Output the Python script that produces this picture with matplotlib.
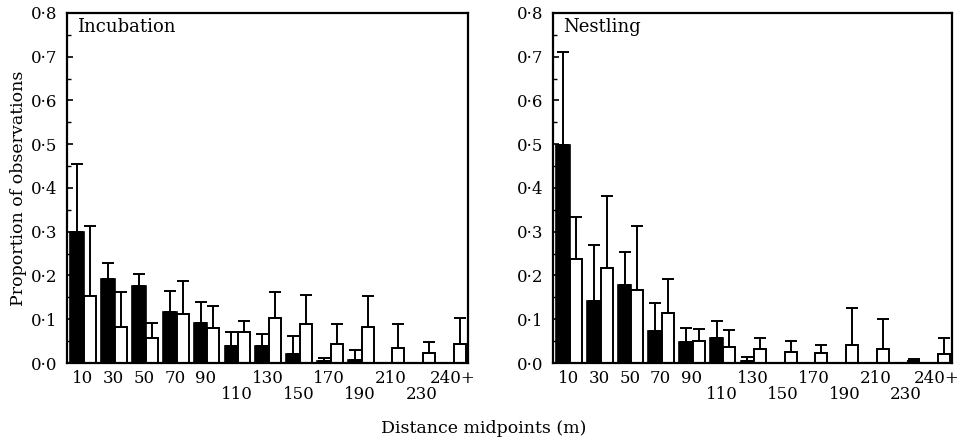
import numpy as np
import matplotlib
matplotlib.use("Agg")
import matplotlib.pyplot as plt
from matplotlib.ticker import MultipleLocator

plt.rcParams["font.family"] = ["DejaVu Serif"]

# Distance classes (midpoints, m)
DISTANCES = ["10", "30", "50", "70", "90", "110", "130", "150",
             "170", "190", "210", "230", "240+"]

# Incubation: black = first series, white = second series (mean, upper error limit)
INC_BLACK = [0.30, 0.193, 0.177, 0.116, 0.092, 0.039, 0.039, 0.021, 0.004, 0.007, 0.0, 0.0, 0.0]
INC_BLACK_TOP = [0.455, 0.228, 0.203, 0.165, 0.140, 0.070, 0.066, 0.062, 0.011, 0.030,
                 np.nan, np.nan, np.nan]
INC_WHITE = [0.152, 0.082, 0.057, 0.113, 0.081, 0.070, 0.102, 0.088, 0.044, 0.082, 0.035, 0.022, 0.043]
INC_WHITE_TOP = [0.312, 0.162, 0.091, 0.187, 0.131, 0.096, 0.162, 0.155, 0.088, 0.152,
                 0.090, 0.048, 0.102]

# Nestling
NES_BLACK = [0.498, 0.142, 0.178, 0.073, 0.047, 0.056, 0.004, 0.0, 0.0, 0.0, 0.0, 0.0, 0.0]
NES_BLACK_TOP = [0.710, 0.270, 0.254, 0.138, 0.079, 0.097, 0.013,
                 np.nan, np.nan, np.nan, np.nan, np.nan, np.nan]
NES_WHITE = [0.237, 0.218, 0.167, 0.114, 0.050, 0.037, 0.032, 0.026, 0.022, 0.040, 0.032, 0.004, 0.021]
NES_WHITE_TOP = [0.334, 0.382, 0.312, 0.191, 0.077, 0.075, 0.056, 0.050, 0.041, 0.125,
                 0.100, 0.010, 0.056]

YTICKS = [0.0, 0.1, 0.2, 0.3, 0.4, 0.5, 0.6, 0.7, 0.8]
YTICKLABELS = ["0·0", "0·1", "0·2", "0·3", "0·4", "0·5", "0·6", "0·7", "0·8"]


def draw_panel(ax, title, black, black_top, white, white_top):
    x = np.arange(len(DISTANCES))
    black = np.array(black)
    white = np.array(white)
    b_err = np.array(black_top) - black
    w_err = np.array(white_top) - white
    ekw = dict(ecolor="black", elinewidth=1.4, capthick=1.4)

    ax.bar(x - 0.17, black, width=0.44, color="black", edgecolor="black", linewidth=1.2,
           yerr=[np.zeros_like(b_err), b_err], capsize=4, error_kw=ekw)
    ax.bar(x + 0.245, white, width=0.39, color="white", edgecolor="black", linewidth=1.4,
           yerr=[np.zeros_like(w_err), w_err], capsize=4, error_kw=ekw)

    ax.set_xlim(-0.5, len(DISTANCES) - 0.5)
    ax.set_ylim(0, 0.8)
    ax.set_yticks(YTICKS)
    ax.set_yticklabels(YTICKLABELS, fontsize=12)
    ax.yaxis.set_minor_locator(MultipleLocator(0.05))
    ax.tick_params(axis="y", which="major", direction="in", length=4, width=1.2, pad=7)
    ax.tick_params(axis="y", which="minor", direction="in", length=3, width=1.0)
    ax.set_xticks([])

    # staggered distance labels
    for i, lab in enumerate(DISTANCES):
        yy = -0.089 if i in (5, 7, 9, 11) else -0.043
        ax.text(i, yy, lab, transform=ax.get_xaxis_transform(),
                ha="center", va="center", fontsize=12)

    for sp in ax.spines.values():
        sp.set_linewidth(1.6)

    ax.text(0.025, 0.985, title, transform=ax.transAxes, ha="left", va="top", fontsize=13)


fig = plt.figure(figsize=(9.68, 4.4), dpi=100)
ax1 = fig.add_axes([0.0692, 0.175, 0.4143, 0.7955])
ax2 = fig.add_axes([0.5713, 0.175, 0.4122, 0.7955])

draw_panel(ax1, "Incubation", INC_BLACK, INC_BLACK_TOP, INC_WHITE, INC_WHITE_TOP)
draw_panel(ax2, "Nestling", NES_BLACK, NES_BLACK_TOP, NES_WHITE, NES_WHITE_TOP)

fig.text(0.019, 0.573, "Proportion of observations", rotation=90,
         ha="center", va="center", fontsize=12.5)
fig.text(0.5, 0.027, "Distance midpoints (m)", ha="center", va="center", fontsize=12.5)

fig.savefig("out.png", dpi=100)
plt.close(fig)
